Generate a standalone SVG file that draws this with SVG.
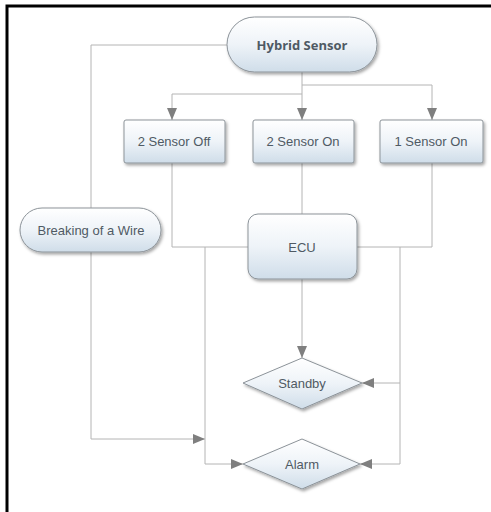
<svg xmlns="http://www.w3.org/2000/svg" width="491" height="512" viewBox="0 0 491 512">
<style>
.node{fill:url(#g);stroke:#8c9399;stroke-width:1;filter:url(#sh)}
.t{font-family:"Liberation Sans",Arial,sans-serif;font-size:13px;fill:#4f5a64;text-anchor:middle}
.tb{font-family:"Open Sans","Liberation Sans",sans-serif;font-size:13px;font-weight:bold;fill:#4f5a64;text-anchor:middle}
.c{fill:none;stroke:#b4b4b4;stroke-width:1}
.a{marker-end:url(#ar)}
</style>
<defs>
<linearGradient id="g" x1="0" y1="0" x2="0" y2="1">
<stop offset="0" stop-color="#ffffff"/>
<stop offset="0.5" stop-color="#eef3f8"/>
<stop offset="1" stop-color="#cfdde9"/>
</linearGradient>
<filter id="sh" x="-20%" y="-20%" width="140%" height="150%">
<feDropShadow dx="1.5" dy="2" stdDeviation="1.5" flood-color="#000" flood-opacity="0.35"/>
</filter>
<marker id="ar" viewBox="0 0 12 10" refX="12" refY="5" markerWidth="12" markerHeight="10" markerUnits="userSpaceOnUse" orient="auto">
<path d="M0,0 L12,5 L0,10 Z" fill="#7f7f7f"/>
</marker>
</defs>
<rect width="491" height="512" fill="#fff"/>
<path d="M7,512 V6 H491" fill="none" stroke="#000" stroke-width="3"/>
<g id="connectors">
<path class="c" d="M227,45 H91 V208"/>
<path class="c a" d="M91,252 V439 H205"/>
<path class="c" d="M302,72 V85"/>
<path class="c a" d="M302,85 V120"/>
<path class="c a" d="M302,94 H172 V120"/>
<path class="c a" d="M302,85 H432 V120"/>
<path class="c" d="M172,163 V247 H248"/>
<path class="c" d="M302,163 V214"/>
<path class="c" d="M432,163 V247 H357"/>
<path class="c a" d="M302,279 V358"/>
<path class="c a" d="M205,247 V464 H243"/>
<path class="c a" d="M400,247 V464 H360"/>
<path class="c a" d="M400,383 H362"/>
</g>
<g id="hybrid">
<rect class="node" x="227" y="17" width="150" height="55" rx="27.5"/>
<text class="tb" x="302" y="50">Hybrid Sensor</text>
</g>
<g id="off2">
<rect class="node" x="124" y="120" width="101" height="43" rx="2"/>
<text class="t" x="174" y="146">2 Sensor Off</text>
</g>
<g id="on2">
<rect class="node" x="253" y="120" width="101" height="43" rx="2"/>
<text class="t" x="303" y="146">2 Sensor On</text>
</g>
<g id="on1">
<rect class="node" x="380" y="120" width="103" height="43" rx="2"/>
<text class="t" x="431" y="146">1 Sensor On</text>
</g>
<g id="wire">
<rect class="node" x="20" y="208" width="141" height="44" rx="22"/>
<text class="t" x="91" y="235">Breaking of a Wire</text>
</g>
<g id="ecu">
<rect class="node" x="248" y="214" width="109" height="65" rx="10"/>
<text class="t" x="302" y="252">ECU</text>
</g>
<g id="standby">
<polygon class="node" points="243,383 302,358 362,383 302,409"/>
<text class="t" x="302" y="388">Standby</text>
</g>
<g id="alarm">
<polygon class="node" points="243,464 302,439 360,464 302,489"/>
<text class="t" x="302" y="469">Alarm</text>
</g>
</svg>
